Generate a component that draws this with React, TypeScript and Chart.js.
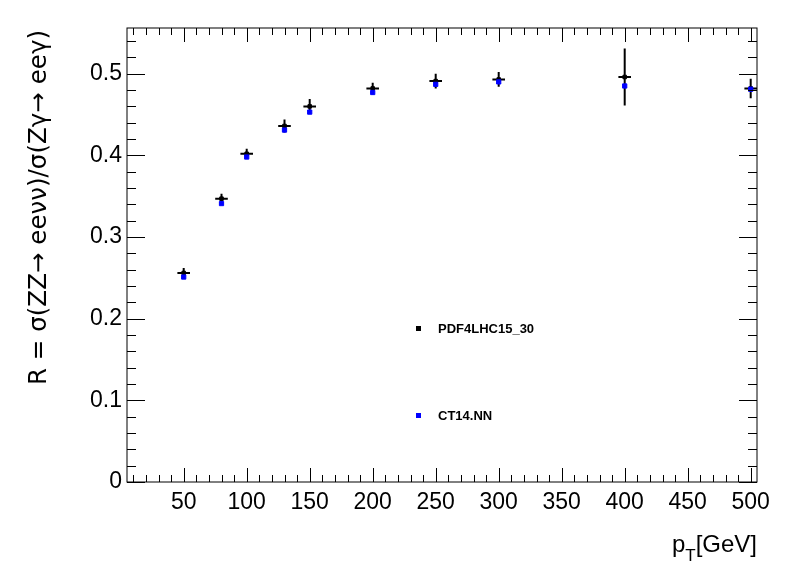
import { useEffect, useRef } from "react";
import { Chart, registerables } from "chart.js";

Chart.register(...registerables);

const ptBins = [50, 80, 100, 130, 150, 200, 250, 300, 400, 500];
const pdf4lhc = [0.256, 0.347, 0.402, 0.436, 0.46, 0.482, 0.491, 0.493, 0.496, 0.482];
const pdf4lhcErr = [0.006, 0.006, 0.006, 0.008, 0.009, 0.007, 0.009, 0.009, 0.035, 0.012];
const ct14 = [0.251, 0.341, 0.398, 0.431, 0.453, 0.477, 0.487, 0.49, 0.485, 0.481];
const xTickLabels = [50, 100, 150, 200, 250, 300, 350, 400, 450, 500];
const yTickLabels = [0, 0.1, 0.2, 0.3, 0.4, 0.5];

const FONT = "Liberation Sans, Arial, sans-serif";

const rootStyle = {
  id: "rootStyle",
  beforeDatasetsDraw(chart: any) {
    const { ctx, scales } = chart;
    const xs = scales.x;
    const ys = scales.y;
    ctx.save();
    // error bars for black series
    ctx.strokeStyle = "#000";
    ctx.lineWidth = 2;
    ptBins.forEach((x, i) => {
      const px = xs.getPixelForValue(x);
      const py = ys.getPixelForValue(pdf4lhc[i]);
      ctx.beginPath();
      ctx.moveTo(px, ys.getPixelForValue(pdf4lhc[i] - pdf4lhcErr[i]));
      ctx.lineTo(px, ys.getPixelForValue(pdf4lhc[i] + pdf4lhcErr[i]));
      ctx.moveTo(xs.getPixelForValue(x - 5), py);
      ctx.lineTo(xs.getPixelForValue(Math.min(x + 5, 505)), py);
      ctx.stroke();
    });
    ctx.restore();
  },
  afterDatasetsDraw(chart: any) {
    const { ctx, chartArea: a, scales } = chart;
    const xs = scales.x;
    const ys = scales.y;
    ctx.save();
    ctx.strokeStyle = "#000";
    // frame
    ctx.lineWidth = 1;
    ctx.strokeRect(a.left, a.top, a.right - a.left, a.bottom - a.top);
    ctx.beginPath();
    for (let v = 10; v <= 500; v += 10) {
      const px = Math.round(xs.getPixelForValue(v)) + 0.5;
      const len = v % 50 === 0 ? 14 : 7;
      ctx.moveTo(px, a.bottom);
      ctx.lineTo(px, a.bottom - len);
      ctx.moveTo(px, a.top);
      ctx.lineTo(px, a.top + len);
    }
    for (let k = 0; k <= 27; k++) {
      const v = k * 0.02;
      const py = Math.round(ys.getPixelForValue(v)) + 0.5;
      const len = k % 5 === 0 ? 18 : 9;
      ctx.moveTo(a.left, py);
      ctx.lineTo(a.left + len, py);
      ctx.moveTo(a.right, py);
      ctx.lineTo(a.right - len, py);
    }
    ctx.stroke();
    // tick labels
    ctx.fillStyle = "#000";
    ctx.font = `23px ${FONT}`;
    ctx.textAlign = "center";
    ctx.textBaseline = "top";
    xTickLabels.forEach((v) => ctx.fillText(String(v), xs.getPixelForValue(v), a.bottom + 9));
    ctx.textAlign = "right";
    ctx.textBaseline = "middle";
    yTickLabels.forEach((v) => ctx.fillText(String(v), a.left - 5, ys.getPixelForValue(v)));
    // x title
    ctx.font = `24px ${FONT}`;
    ctx.textAlign = "right";
    ctx.textBaseline = "alphabetic";
    ctx.fillText("[GeV]", 757, 552);
    const w = ctx.measureText("[GeV]").width;
    ctx.font = `17px ${FONT}`;
    ctx.fillText("T", 757 - w, 561);
    const wt = ctx.measureText("T").width;
    ctx.font = `24px ${FONT}`;
    ctx.fillText("p", 757 - w - wt, 552);
    // y title
    ctx.save();
    ctx.translate(46, 385);
    ctx.rotate(-Math.PI / 2);
    ctx.textAlign = "left";
    ctx.font = `24px DejaVu Sans, ${FONT}`;
    const title = "R = σ(ZZ→ eeνν)/σ(Zγ→ eeγ)";
    const tw = ctx.measureText(title).width;
    ctx.scale(355 / tw, 1);
    ctx.fillText(title, 0, 0);
    ctx.restore();
    // legend
    ctx.font = `bold 13px ${FONT}`;
    ctx.textAlign = "left";
    ctx.textBaseline = "middle";
    ctx.fillRect(416, 326, 5, 5);
    ctx.fillText("PDF4LHC15_30", 438, 329);
    ctx.fillStyle = "#0000ff";
    ctx.fillRect(416, 413, 5, 5);
    ctx.fillStyle = "#000";
    ctx.fillText("CT14.NN", 438, 416);
    ctx.restore();
  },
};

export default function App() {
  const ref = useRef<HTMLCanvasElement>(null);
  useEffect(() => {
    if (!ref.current) return;
    const chart = new Chart(ref.current, {
      type: "scatter",
      data: {
        datasets: [
          {
            label: "CT14.NN",
            data: ptBins.map((x, i) => ({ x, y: ct14[i] })),
            backgroundColor: "#0000ff",
            borderColor: "#0000ff",
            pointStyle: "rect",
            pointRadius: 3,
          },
          {
            label: "PDF4LHC15_30",
            data: ptBins.map((x, i) => ({ x, y: pdf4lhc[i] })),
            backgroundColor: "#000",
            borderColor: "#000",
            pointStyle: "rect",
            pointRadius: 2.5,
          },
        ],
      },
      options: {
        animation: false,
        responsive: false,
        layout: { padding: { left: 127, right: 41, top: 28, bottom: 91 } },
        plugins: { legend: { display: false }, tooltip: { enabled: false } },
        scales: {
          x: { type: "linear", min: 5, max: 505, display: false },
          y: { type: "linear", min: 0, max: 0.556, display: false },
        },
      },
      plugins: [rootStyle],
    });
    return () => chart.destroy();
  }, []);
  return (
    <div style={{ position: "fixed", left: 0, top: 0, width: 798, height: 573, background: "#fff" }}>
      <canvas ref={ref} width={798} height={573} style={{ width: 798, height: 573 }} />
    </div>
  );
}
